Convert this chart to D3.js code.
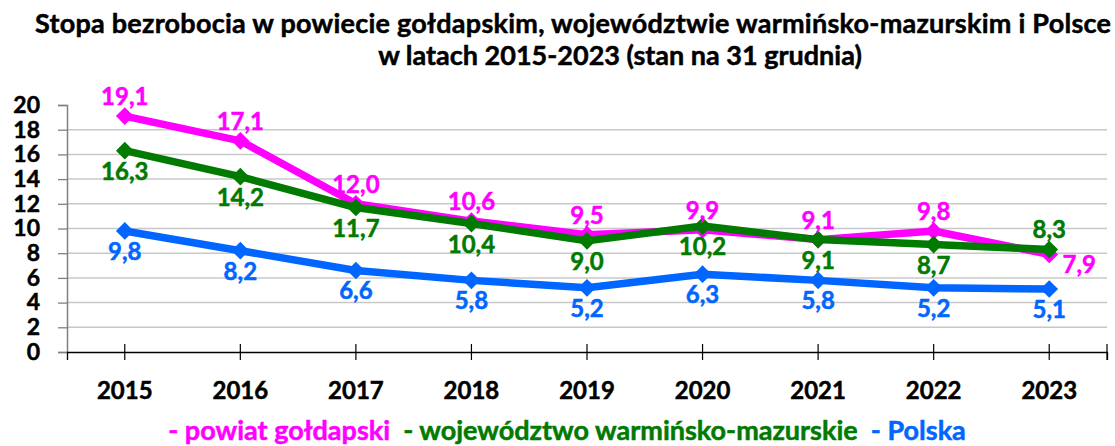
<!DOCTYPE html>
<html>
<head>
<meta charset="utf-8">
<script src="https://cdn.jsdelivr.net/npm/d3@7"></script>
<style>
  body { margin: 0; background: #fff; }
  svg text { font-family: Lato, "Open Sans", sans-serif; font-weight: bold; stroke-width: 0.5px; }
</style>
</head>
<body>
<div id="chart"></div>
<script>
var lata = ["2015", "2016", "2017", "2018", "2019", "2020", "2021", "2022", "2023"];
var powiat = [19.1, 17.1, 12.0, 10.6, 9.5, 9.9, 9.1, 9.8, 7.9];
var wojewodztwo = [16.3, 14.2, 11.7, 10.4, 9.0, 10.2, 9.1, 8.7, 8.3];
var polska = [9.8, 8.2, 6.6, 5.8, 5.2, 6.3, 5.8, 5.2, 5.1];
var yTicks = [0, 2, 4, 6, 8, 10, 12, 14, 16, 18, 20];

var width = 1115, height = 446;
var margin = { top: 105, bottom: 94, left: 67, right: 8 };

var svg = d3.select("#chart").append("svg")
  .attr("width", width)
  .attr("height", height);

var x = d3.scaleBand()
  .domain(lata)
  .range([margin.left, width - margin.right]);

var y = d3.scaleLinear()
  .domain([0, 20])
  .range([height - margin.bottom, margin.top]);

// tytul
svg.append("text")
  .attr("x", 573).attr("y", 33)
  .attr("text-anchor", "middle")
  .attr("font-size", "27px")
  .attr("textLength", 1076)
  .attr("stroke", "#000")
  .text("Stopa bezrobocia w powiecie gołdapskim, województwie warmińsko-mazurskim i Polsce");
svg.append("text")
  .attr("x", 620).attr("y", 65)
  .attr("text-anchor", "middle")
  .attr("font-size", "27px")
  .attr("stroke", "#000")
  .text("w latach 2015-2023 (stan na 31 grudnia)");

// siatka
svg.append("g")
  .selectAll("line")
  .data(yTicks.filter(d => d > 0 && d < 20))
  .join("line")
    .attr("x1", margin.left)
    .attr("x2", width - margin.right)
    .attr("y1", d => y(d))
    .attr("y2", d => y(d))
    .attr("stroke", "#c8c8c8")
    .attr("stroke-width", 1.5);

// os Y
var yAxis = svg.append("g")
  .attr("transform", `translate(${margin.left},0)`)
  .call(d3.axisLeft(y).tickValues(yTicks).tickSize(9).tickPadding(18));
yAxis.select(".domain").attr("stroke", "#808080").attr("stroke-width", 1.5);
yAxis.selectAll(".tick line").attr("stroke", "#808080").attr("stroke-width", 1.3);
yAxis.selectAll("text").attr("font-size", "23px").attr("fill", "#000").attr("stroke", "#000")
  .attr("font-family", "Lato, sans-serif").attr("font-weight", "bold");

// os X
var xAxis = svg.append("g")
  .attr("transform", `translate(0,${y(0)})`)
  .call(d3.axisBottom(x).tickSizeOuter(0).tickSize(8).tickPadding(22));
xAxis.select(".domain").attr("stroke", "#000").attr("stroke-width", 1.3);
xAxis.selectAll(".tick line").attr("stroke", "#000").attr("stroke-width", 1.2)
  .attr("y1", -8).attr("y2", 8);
xAxis.selectAll("text").attr("font-size", "24px").attr("fill", "#000").attr("stroke", "#000")
  .attr("font-family", "Lato, sans-serif").attr("font-weight", "bold");
xAxis.append("line")
  .attr("x1", width - margin.right).attr("x2", width - margin.right)
  .attr("y1", -8).attr("y2", 8)
  .attr("stroke", "#000").attr("stroke-width", 1.2);

var cx = d => x(d) + x.bandwidth() / 2;

var serie = [
  { name: "powiat", values: powiat, color: "#ff00ff",
    pos: ["a", "a", "a", "a", "a", "a", "a", "a", "br"] },
  { name: "woj", values: wojewodztwo, color: "#007a00",
    pos: ["b", "b", "b", "b", "b", "b", "b", "b", "a"] },
  { name: "polska", values: polska, color: "#0066ff",
    pos: ["b", "b", "b", "b", "b", "b", "b", "b", "b"] }
];

var line = d3.line()
  .x((d, i) => cx(lata[i]))
  .y(d => y(d));

var diamond = d3.symbol().type(d3.symbolDiamond2).size(200);

serie.forEach(function (s) {
  var g = svg.append("g");
  g.append("path")
    .datum(s.values)
    .attr("d", line)
    .attr("fill", "none")
    .attr("stroke", s.color)
    .attr("stroke-width", 7.5)
    .attr("stroke-linejoin", "round");
  g.selectAll("path.m")
    .data(s.values)
    .join("path")
      .attr("class", "m")
      .attr("d", diamond)
      .attr("transform", (d, i) => `translate(${cx(lata[i])},${y(d)})`)
      .attr("fill", s.color);
});

// etykiety danych
serie.forEach(function (s) {
  svg.append("g")
    .selectAll("text")
    .data(s.values)
    .join("text")
      .attr("x", (d, i) => cx(lata[i]) + (s.pos[i] == "br" ? 30 : 0))
      .attr("y", (d, i) => {
        var p = s.pos[i];
        if (p == "a") return y(d) - 11;
        if (p == "br") return y(d) + 19;
        return y(d) + 29;
      })
      .attr("text-anchor", "middle")
      .attr("font-size", "24px")
      .attr("fill", s.color)
      .attr("stroke", s.color)
      .text(d => d.toFixed(1).replace(".", ","));
});

// legenda
var leg = svg.append("text")
  .attr("x", 567).attr("y", 440)
  .attr("text-anchor", "middle")
  .attr("font-size", "27px")
  .style("white-space", "pre");
leg.append("tspan").attr("fill", "#ff00ff").attr("stroke", "#ff00ff").text("- powiat gołdapski  ");
leg.append("tspan").attr("fill", "#007a00").attr("stroke", "#007a00").text("- województwo warmińsko-mazurskie  ");
leg.append("tspan").attr("fill", "#0066ff").attr("stroke", "#0066ff").text("- Polska");
</script>
</body>
</html>
